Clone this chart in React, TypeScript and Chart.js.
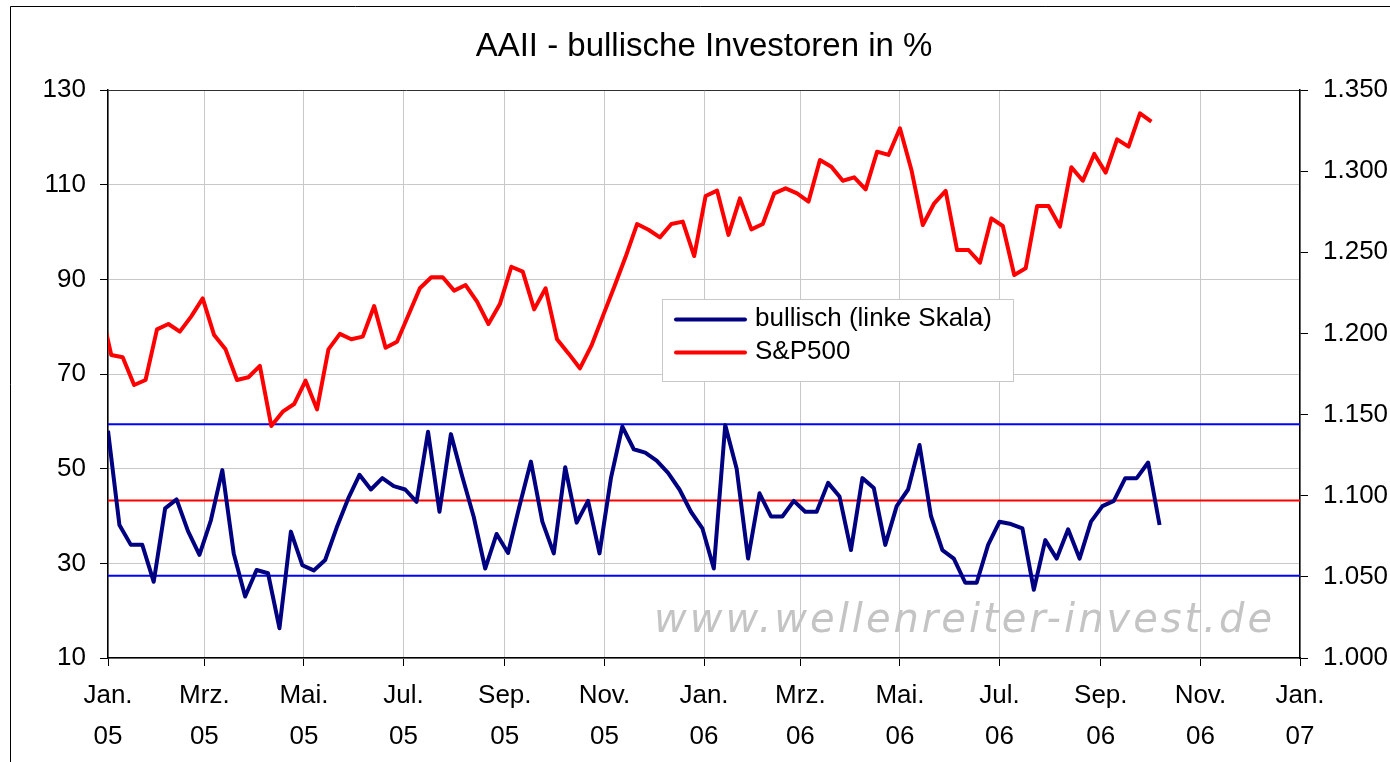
import { useEffect, useRef } from "react";
import { Chart, registerables } from "chart.js";

Chart.register(...registerables);

// ---------- texts ----------
const chartTitle = "AAII - bullische Investoren in %";
const bullLabel = "bullisch (linke Skala)";
const spxLabel = "S&P500";
const watermarkText = "www.wellenreiter-invest.de";

// ---------- dates ----------
const startDate = "2005-01-01";
const bullStartDay = 0; // first weekly survey value (days after start)
const spxStartDay = -5; // first S&P close (days after start)
const stepDays = 7;

// ---------- series values ----------
const bullish = [
  58.0, 38.1, 33.9, 33.9, 26.1, 41.6, 43.5, 36.8, 31.8, 39.1,
  49.7, 32.1, 23.0, 28.6, 27.9, 16.3, 36.7, 29.6, 28.5, 30.7,
  37.5, 43.6, 48.7, 45.6, 48.0, 46.3, 45.6, 43.0, 57.8, 40.9,
  57.3, 48.3, 39.8, 28.9, 36.2, 32.2, 42.1, 51.5, 38.8, 32.1,
  50.3, 38.6, 43.2, 32.1, 48.0, 58.9, 54.1, 53.4, 51.7, 49.1,
  45.6, 40.9, 37.4, 28.9, 59.2, 50.0, 31.0, 44.8, 39.9, 39.9,
  43.2, 40.9, 40.9, 47.0, 44.1, 32.8, 48.0, 45.9, 33.9, 42.1,
  45.6, 55.0, 40.0, 32.8, 31.0, 25.9, 25.9, 33.9, 38.8, 38.3,
  37.4, 24.4, 34.9, 31.0, 37.2, 31.0, 38.8, 42.1, 43.2, 48.0,
  48.0, 51.3, 38.1,
];

const spx = [
  1218, 1186.7, 1185.3, 1168.2, 1171.3, 1202.5, 1205.8, 1201.1, 1210.5, 1221.6,
  1199.0, 1190.2, 1171.3, 1173.0, 1180.0, 1143.0, 1151.8, 1156.5, 1170.9, 1153.2,
  1190.2, 1199.7, 1196.4, 1198.0, 1216.9, 1191.2, 1194.9, 1211.4, 1227.8, 1234.6,
  1234.6, 1226.4, 1229.8, 1219.6, 1205.8, 1218.1, 1241.1, 1238.1, 1214.8, 1227.8,
  1196.4, 1187.7, 1178.5, 1192.3, 1210.5, 1228.6, 1247.2, 1267.4, 1263.9, 1259.2,
  1267.4, 1268.9, 1247.7, 1284.7, 1288.0, 1260.7, 1283.2, 1264.1, 1267.4, 1286.3,
  1289.4, 1286.3, 1281.2, 1306.9, 1302.7, 1294.1, 1296.2, 1288.8, 1312.0, 1310.0,
  1326.4, 1300.9, 1266.8, 1280.2, 1287.8, 1251.4, 1251.4, 1243.6, 1270.9, 1266.2,
  1236.0, 1240.1, 1278.5, 1278.5, 1265.8, 1302.4, 1294.1, 1310.6, 1299.1, 1319.6,
  1315.1, 1335.6, 1330.5,
];

// reference levels (left scale)
const bandUpper = 59.4;
const bandMean = 43.3;
const bandLower = 27.4;

// ---------- axis ticks ----------
const tickDates = [
  "2005-01-01", "2005-03-01", "2005-05-01", "2005-07-01", "2005-09-01", "2005-11-01",
  "2006-01-01", "2006-03-01", "2006-05-01", "2006-07-01", "2006-09-01", "2006-11-01",
  "2007-01-01",
];
const tickMonths = ["Jan.", "Mrz.", "Mai.", "Jul.", "Sep.", "Nov.", "Jan.", "Mrz.", "Mai.", "Jul.", "Sep.", "Nov.", "Jan."];
const tickYears = ["05", "05", "05", "05", "05", "05", "06", "06", "06", "06", "06", "06", "07"];

const leftMin = 10;
const leftMax = 130;
const leftStep = 20;
const rightMin = 1000;
const rightMax = 1350;
const rightStep = 50;

// ---------- helpers ----------
const dayOf = (iso: string) => Math.round((Date.parse(iso) - Date.parse(startDate)) / 86400000);
const tickDays = tickDates.map(dayOf);
const xMin = tickDays[0];
const xMax = tickDays[tickDays.length - 1];

const fmtThousands = (v: number) => {
  const s = String(Math.round(v));
  return s.replace(/\B(?=(\d{3})+(?!\d))/g, ".");
};

const FONT = "'Liberation Sans', Arial, sans-serif";

const framePlugin = {
  id: "frame",
  beforeDraw(chart: any) {
    const { ctx, width, height } = chart;
    ctx.save();
    ctx.fillStyle = "#ffffff";
    ctx.fillRect(0, 0, width, height);
    ctx.restore();
  },
  afterDraw(chart: any) {
    const { ctx, width, height } = chart;
    ctx.save();
    ctx.strokeStyle = "#000000";
    ctx.lineWidth = 1;
    ctx.beginPath();
    ctx.moveTo(10.5, height);
    ctx.lineTo(10.5, 6.5);
    ctx.lineTo(width, 6.5);
    ctx.stroke();
    ctx.restore();
  },
};

const watermarkPlugin = {
  id: "watermark",
  beforeDatasetsDraw(chart: any) {
    const { ctx, chartArea } = chart;
    ctx.save();
    ctx.font = "italic 40px 'DejaVu Sans', Verdana, sans-serif";
    ctx.fillStyle = "#c4c4c4";
    ctx.textAlign = "right";
    ctx.textBaseline = "alphabetic";
    try {
      (ctx as any).letterSpacing = "3px";
    } catch (e) {}
    ctx.fillText(watermarkText, chartArea.right - 25, chartArea.bottom - 26);
    ctx.restore();
  },
};

const legendPlugin = {
  id: "boxLegend",
  afterDraw(chart: any) {
    const { ctx, chartArea } = chart;
    const left = chartArea.left + 554;
    const top = chartArea.top + 209;
    const w = 351;
    const h = 82;
    ctx.save();
    ctx.fillStyle = "#ffffff";
    ctx.fillRect(left, top, w, h);
    ctx.strokeStyle = "#c8c8c8";
    ctx.lineWidth = 1;
    ctx.strokeRect(left + 0.5, top + 0.5, w, h);
    const items = chart.data.datasets.filter((d: any) => d.inLegend);
    items.forEach((d: any, i: number) => {
      const cy = top + 20.5 + i * 33;
      ctx.strokeStyle = d.borderColor;
      ctx.lineWidth = 4;
      ctx.lineCap = "round";
      ctx.beginPath();
      ctx.moveTo(left + 14, cy);
      ctx.lineTo(left + 83, cy);
      ctx.stroke();
      ctx.fillStyle = "#000000";
      ctx.font = `26px ${FONT}`;
      ctx.textBaseline = "middle";
      ctx.textAlign = "left";
      ctx.fillText(d.label, left + 93, cy - 1);
    });
    ctx.restore();
  },
};

export default function App() {
  const canvasRef = useRef<HTMLCanvasElement | null>(null);

  useEffect(() => {
    if (!canvasRef.current) return;
    Chart.defaults.font.family = FONT;
    Chart.defaults.font.size = 26;
    Chart.defaults.color = "#000000";

    const bandLine = (v: number, color: string) => ({
      label: "band",
      data: [
        { x: xMin, y: v },
        { x: xMax, y: v },
      ],
      yAxisID: "y",
      borderColor: color,
      borderWidth: 2,
      pointRadius: 0,
      tension: 0,
      order: 5,
      inLegend: false,
    });

    const chart = new Chart(canvasRef.current, {
      type: "line",
      data: {
        datasets: [
          {
            label: bullLabel,
            data: bullish.map((v, i) => ({ x: bullStartDay + i * stepDays, y: v })),
            yAxisID: "y",
            borderColor: "#000080",
            borderWidth: 4,
            pointRadius: 0,
            tension: 0,
            borderJoinStyle: "round",
            order: 1,
            inLegend: true,
          } as any,
          {
            label: spxLabel,
            data: spx.map((v, i) => ({ x: spxStartDay + i * stepDays, y: v })),
            yAxisID: "y2",
            borderColor: "#ff0000",
            borderWidth: 4,
            pointRadius: 0,
            tension: 0,
            borderJoinStyle: "round",
            clip: 0,
            order: 2,
            inLegend: true,
          } as any,
          bandLine(bandUpper, "#0000ff") as any,
          bandLine(bandMean, "#ff0000") as any,
          bandLine(bandLower, "#0000ff") as any,
        ],
      },
      options: {
        responsive: true,
        maintainAspectRatio: false,
        animation: false,
        events: [],
        layout: { padding: 0 },
        plugins: {
          legend: { display: false },
          tooltip: { enabled: false },
          title: {
            display: true,
            text: chartTitle,
            fullSize: false,
            color: "#000000",
            font: { size: 33, weight: "normal", family: FONT, lineHeight: 1.2 },
            padding: { top: 27, bottom: 23.4 },
          },
        },
        scales: {
          x: {
            type: "linear",
            min: xMin,
            max: xMax,
            afterBuildTicks: (scale: any) => {
              scale.ticks = tickDays.map((v) => ({ value: v }));
            },
            afterFit: (scale: any) => {
              scale.height = 104;
            },
            ticks: {
              autoSkip: false,
              maxRotation: 0,
              padding: 10,
              font: { size: 26, lineHeight: 1.55 },
              callback: (_v: any, i: number) => [tickMonths[i], tickYears[i]],
            },
            grid: { color: "#c8c8c8", lineWidth: 1, tickLength: 8, tickColor: "#000000" },
            border: { display: true, color: "#000000", width: 1.5 },
          },
          y: {
            type: "linear",
            position: "left",
            min: leftMin,
            max: leftMax,
            afterFit: (scale: any) => {
              scale.width = 108;
            },
            ticks: { stepSize: leftStep, padding: 14, font: { size: 26 } },
            grid: {
              color: (c: any) => (c.tick && c.tick.value === leftMax ? "#303030" : "#c8c8c8"),
              lineWidth: 1,
              tickLength: 8,
              tickColor: "#000000",
            },
            border: { display: true, color: "#000000", width: 1.5 },
          },
          y2: {
            type: "linear",
            position: "right",
            min: rightMin,
            max: rightMax,
            afterFit: (scale: any) => {
              scale.width = 90;
            },
            ticks: {
              stepSize: rightStep,
              padding: 15,
              font: { size: 26 },
              callback: (v: any) => fmtThousands(Number(v)),
            },
            grid: { drawOnChartArea: false, tickLength: 8, tickColor: "#000000" },
            border: { display: true, color: "#000000", width: 1.5 },
          },
        },
      } as any,
      plugins: [framePlugin, watermarkPlugin, legendPlugin],
    });

    return () => {
      chart.destroy();
    };
  }, []);

  return (
    <div style={{ position: "fixed", left: 0, top: 0, width: 1390, height: 762, background: "#fff" }}>
      <canvas ref={canvasRef} />
    </div>
  );
}
